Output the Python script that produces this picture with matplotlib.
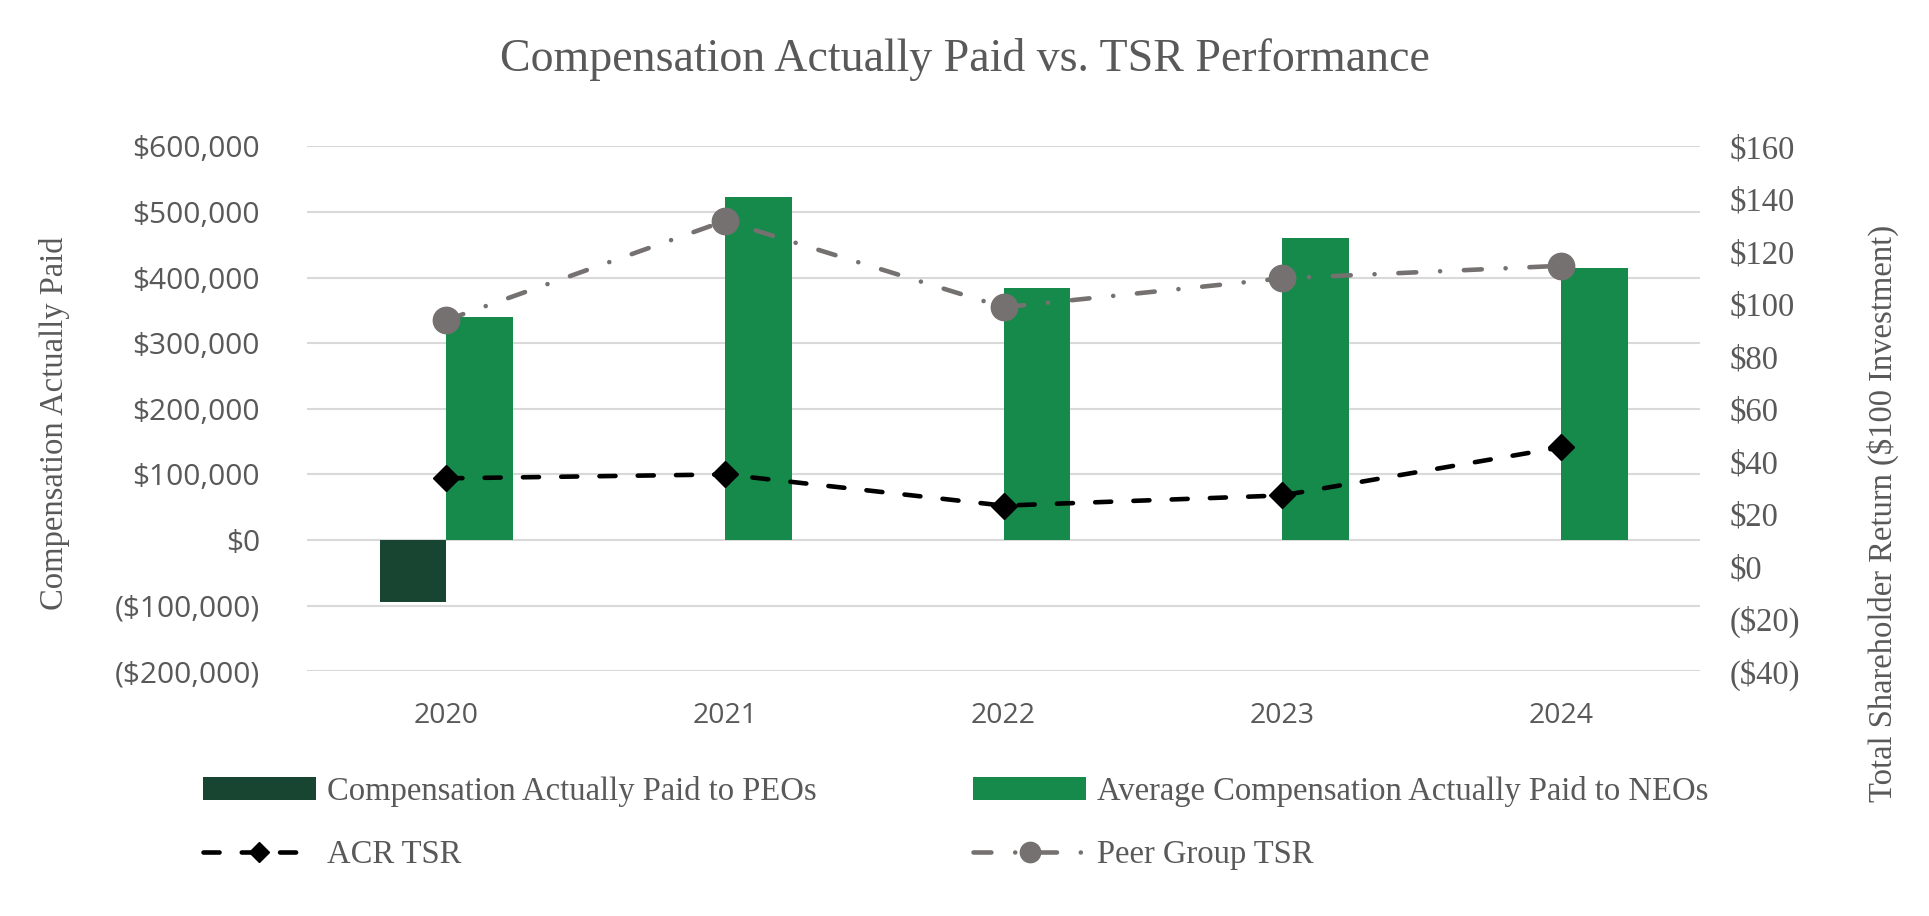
import numpy as np
import matplotlib
matplotlib.use('Agg')
import matplotlib.pyplot as plt
from matplotlib.ticker import FuncFormatter, MultipleLocator
from matplotlib.legend_handler import HandlerLine2D

years = ['2020', '2021', '2022', '2023', '2024']
peo_cap = [-94000, np.nan, np.nan, np.nan, np.nan]
neo_cap = [339500, 522400, 384500, 460000, 414000]
acr_tsr = [33.5, 35.0, 23.1, 27.0, 45.3]
peer_tsr = [93.8, 131.6, 98.7, 109.7, 114.5]

TEXT = '#595959'
SERIF = ['Liberation Serif', 'DejaVu Serif']
SANS = ['Open Sans', 'DejaVu Sans']


def money(v):
    if v < 0:
        return '(${:,.0f})'.format(-v)
    return '${:,.0f}'.format(v)


def small_marker(handle, orig):
    # legend markers are drawn a bit smaller than in the plot
    handle.update_from(orig)
    handle.set_markersize(orig.get_markersize() * 0.77)


fig = plt.figure(figsize=(19.29, 9.16), dpi=100)
ax = fig.add_axes([0.1592, 0.2672, 0.8813 - 0.1592, 0.8402 - 0.2672])
ax2 = ax.twinx()

x = np.arange(len(years))
w = 0.24
b1 = ax.bar(x - w / 2, peo_cap, width=w, color='#174532', label='Compensation Actually Paid to PEOs')
b2 = ax.bar(x + w / 2, neo_cap, width=w, color='#158A4A', label='Average Compensation Actually Paid to NEOs')

l1, = ax2.plot(x, acr_tsr, color='black', lw=3.3, ls=(0, (3.5, 4.85)), dash_capstyle='round',
               marker='D', ms=13, label='ACR TSR')
l2, = ax2.plot(x, peer_tsr, color='#767171', lw=3.3, ls=(0, (3.9, 5.2, 0.01, 5.2)),
               dash_capstyle='round', marker='o', ms=19, label='Peer Group TSR')

ax.set_xlim(-0.5, 4.5)
ax.set_ylim(-200000, 600000)
ax2.set_ylim(-40, 160)
ax.yaxis.set_major_locator(MultipleLocator(100000))
ax2.yaxis.set_major_locator(MultipleLocator(20))
ax.yaxis.set_major_formatter(FuncFormatter(lambda v, p: money(v)))
ax2.yaxis.set_major_formatter(FuncFormatter(lambda v, p: money(v)))

ax.set_xticks(x)
ax.set_xticklabels(years)
ax.grid(axis='y', color='#D9D9D9', lw=1.5)
ax.set_axisbelow(True)
for a in (ax, ax2):
    for s in a.spines.values():
        s.set_visible(False)
    a.tick_params(length=0)

ax.tick_params(axis='y', pad=34, labelsize=21.5, labelcolor=TEXT)
ax.tick_params(axis='x', pad=22, labelsize=20.5, labelcolor=TEXT)
for t in ax.get_xticklabels() + ax.get_yticklabels():
    t.set_family(SANS)
ax2.tick_params(axis='y', pad=21, labelsize=23.5, labelcolor=TEXT)
for t in ax2.get_yticklabels():
    t.set_family(SERIF)

ax.set_ylabel('Compensation Actually Paid', family=SERIF, fontsize=23.5, color=TEXT)
ax.yaxis.set_label_coords(-0.170, 0.473)
ax2.set_ylabel('Total Shareholder Return ($100 Investment)', family=SERIF, fontsize=23.5, color=TEXT)
ax2.yaxis.set_label_coords(1.120, 0.30)

fig.suptitle('Compensation Actually Paid vs. TSR Performance', family=SERIF, fontsize=33,
             color=TEXT, y=0.935, va='center')

fig.legend([b1, l1, b2, l2], [h.get_label() for h in (b1, l1, b2, l2)],
           ncol=2, loc='upper left', bbox_to_anchor=(203 / 1929, 1 - 776 / 916),
           frameon=False, borderpad=0, borderaxespad=0, handlelength=3.45,
           handletextpad=0.35, columnspacing=4.8, labelspacing=1.0,
           handler_map={l1: HandlerLine2D(update_func=small_marker),
                        l2: HandlerLine2D(update_func=small_marker)},
           prop={'family': SERIF, 'size': 23.5}, labelcolor=TEXT)

fig.savefig('out.png', dpi=100)
